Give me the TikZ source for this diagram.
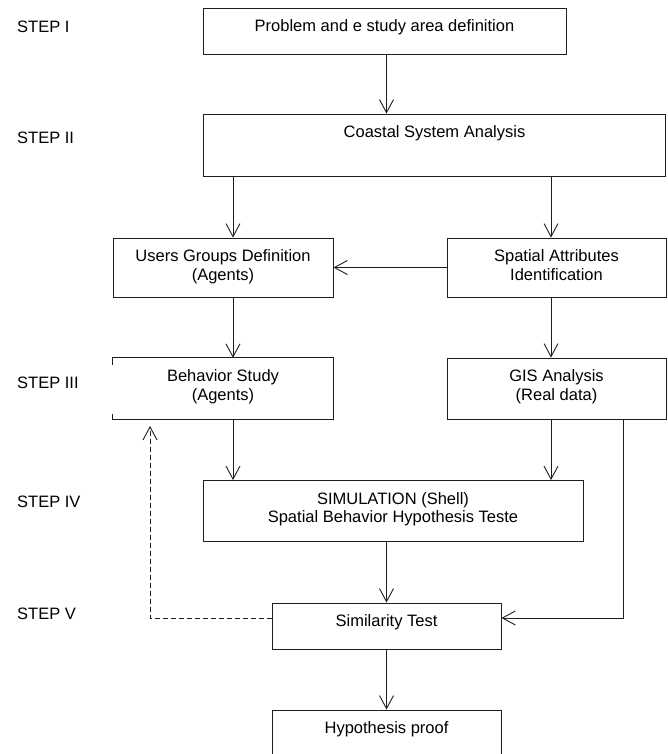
\documentclass[tikz,border=0pt]{standalone}
\usepackage{fontspec}
\setmainfont{Liberation Sans}
\usetikzlibrary{arrows.meta}
\definecolor{linec}{RGB}{30,30,30}
\begin{document}
\begin{tikzpicture}[x=1pt,y=-1pt,
  box/.style={draw=linec, line width=0.9pt, rectangle, inner sep=0pt},
  nobox/.style={rectangle, inner sep=0pt},
  txt/.style={anchor=north, inner sep=0pt, align=center, font=\fontsize{16.5}{18.5}\selectfont, yshift=-12pt},
  steplabel/.style={anchor=west, inner sep=0pt, font=\fontsize{16.5}{18.5}\selectfont},
  arr/.style={draw=linec, line width=0.9pt, -{Straight Barb[length=13pt,width=14pt,line width=0.9pt]}},
  dasharr/.style={arr, dash pattern=on 5pt off 3pt}]
\useasboundingbox (0,0) rectangle (668,754);
\clip (0,0) rectangle (668,754);

% boxes
\node[box, minimum width=363pt, minimum height=46pt] (b1) at (384.5,31) {};
\node[box, minimum width=462pt, minimum height=62pt] (b2) at (434.5,145) {};
\node[box, minimum width=220pt, minimum height=59pt] (b3) at (223,267.5) {};
\node[box, minimum width=219pt, minimum height=59pt] (b4) at (556.5,267.5) {};
\node[nobox, minimum width=220pt, minimum height=61pt] (b5) at (223,388.5) {};
\draw[linec, line width=0.9pt] ([yshift=-7pt]b5.north west) -- (b5.north west) -- (b5.north east)
  -- (b5.south east) -- (b5.south west) -- ([yshift=5pt]b5.south west);
\node[box, minimum width=219pt, minimum height=61pt] (b6) at (556.5,388.5) {};
\node[box, minimum width=380pt, minimum height=61pt] (b7) at (393,511) {};
\node[box, minimum width=229pt, minimum height=46pt] (b8) at (386.5,626) {};
\node[box, minimum width=229pt, minimum height=80pt] (b9) at (386.5,750) {};

% texts
\node[txt] (t1) at (b1.north) {Problem and e study area definition};
\node[txt] (t2) at (b2.north) {Coastal System Analysis};
\node[txt] (t3) at (b3.north) {Users Groups Definition\\(Agents)};
\node[txt] (t4) at (b4.north) {Spatial Attributes\\Identification};
\node[txt] (t5) at (b5.north) {Behavior Study\\(Agents)};
\node[txt] (t6) at (b6.north) {GIS Analysis\\(Real data)};
\node[txt] (t7) at (b7.north) {SIMULATION (Shell)\\Spatial Behavior Hypothesis Teste};
\node[txt] (t8) at (b8.north) {Similarity Test};
\node[txt] (t9) at (b9.north) {Hypothesis proof};

% step labels
\node[steplabel] (s1) at (17,27) {STEP I};
\node[steplabel] (s2) at (17,138) {STEP II};
\node[steplabel] (s3) at (17,383) {STEP III};
\node[steplabel] (s4) at (17,502) {STEP IV};
\node[steplabel] (s5) at (17,614) {STEP V};

% connectors
\draw[arr] (b1.south -| b8.north) -- (b2.north -| b8.north);
\draw[arr] (b2.south -| 233,0) -- (b3.north -| 233,0);
\draw[arr] (b2.south -| 551,0) -- (b4.north -| 551,0);
\draw[arr] (b4.west) -- (b3.east);
\draw[arr] (b3.south -| 233,0) -- (b5.north -| 233,0);
\draw[arr] (b4.south -| 551,0) -- (b6.north -| 551,0);
\draw[arr] (b5.south -| 233,0) -- (b7.north -| 233,0);
\draw[arr] (b6.south -| 551,0) -- (b7.north -| 551,0);
\draw[arr] (b7.south -| b8.north) -- (b8.north);
\draw[arr] (b8.south) -- (b9.north);
\coordinate (cr) at (b8.east |- 0,618);
\coordinate (cl) at (b8.west |- 0,618);
\coordinate (fb) at (150,426);
\draw[arr] (b6.south -| 623,0) |- (cr);
\draw[dasharr] (cl) -| (fb);
\end{tikzpicture}
\end{document}
